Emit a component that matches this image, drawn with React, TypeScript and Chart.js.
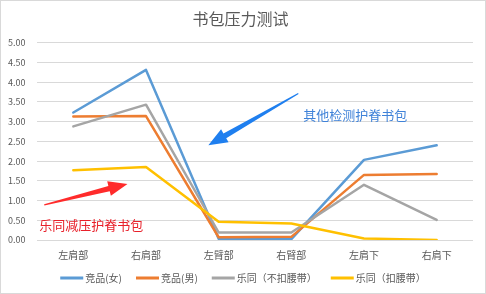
import React, { useEffect, useRef } from "react";
import { Chart, registerables } from "chart.js";

Chart.register(...registerables);

const categories = ["左肩部", "右肩部", "左臂部", "右臂部", "左肩下", "右肩下"];
const seriesNames = ["竞品(女)", "竞品(男)", "乐同（不扣腰带）", "乐同（扣腰带）"];
const competitorFemale = [3.23, 4.31, 0.03, 0.02, 2.03, 2.4];
const competitorMale = [3.13, 3.14, 0.07, 0.08, 1.65, 1.67];
const letongNoBelt = [2.88, 3.43, 0.19, 0.19, 1.4, 0.51];
const letongBelt = [1.77, 1.85, 0.46, 0.42, 0.04, 0.0];
const seriesColors = ["#5B9BD5", "#ED7D31", "#A5A5A5", "#FFC000"];
const titleText = "书包压力测试";

// annotations in data coordinates (category index, value)
const arrowNotes = [
  { from: [-0.4, 0.89], to: [0.745, 1.42], color: "#FF2B2B" },
  { from: [3.096, 3.71], to: [1.858, 2.4], color: "#1F7FEF" },
];
const textNotes = [
  { at: [-0.47, 0.38], text: "乐同减压护脊书包", color: "#E8202A" },
  { at: [3.165, 3.17], text: "其他检测护脊书包", color: "#3F82D8" },
];

const FONT = '"Noto Sans CJK SC", "Noto Sans", sans-serif';

function drawArrow(ctx: CanvasRenderingContext2D, x1: number, y1: number, x2: number, y2: number, color: string) {
  const dx = x2 - x1;
  const dy = y2 - y1;
  const len = Math.hypot(dx, dy);
  const ux = dx / len;
  const uy = dy / len;
  const nx = -uy;
  const ny = ux;
  const headLen = 19;
  const headHalf = 7.5;
  const shaftHalf = 2.8;
  const tailHalf = 0.6;
  const bx = x2 - ux * headLen;
  const by = y2 - uy * headLen;
  ctx.save();
  ctx.fillStyle = color;
  ctx.beginPath();
  ctx.moveTo(x1 + nx * tailHalf, y1 + ny * tailHalf);
  ctx.lineTo(bx + nx * shaftHalf, by + ny * shaftHalf);
  ctx.lineTo(bx + nx * headHalf, by + ny * headHalf);
  ctx.lineTo(x2, y2);
  ctx.lineTo(bx - nx * headHalf, by - ny * headHalf);
  ctx.lineTo(bx - nx * shaftHalf, by - ny * shaftHalf);
  ctx.lineTo(x1 - nx * tailHalf, y1 - ny * tailHalf);
  ctx.closePath();
  ctx.fill();
  ctx.restore();
}

const annotationPlugin = {
  id: "notes",
  afterDatasetsDraw(chart: any) {
    const ctx = chart.ctx as CanvasRenderingContext2D;
    const xs = chart.scales.x;
    const ys = chart.scales.y;
    arrowNotes.forEach((a) => {
      drawArrow(
        ctx,
        xs.getPixelForValue(a.from[0]),
        ys.getPixelForValue(a.from[1]),
        xs.getPixelForValue(a.to[0]),
        ys.getPixelForValue(a.to[1]),
        a.color
      );
    });
    ctx.save();
    ctx.font = `13px ${FONT}`;
    ctx.textBaseline = "middle";
    ctx.textAlign = "left";
    textNotes.forEach((t) => {
      ctx.fillStyle = t.color;
      ctx.fillText(t.text, xs.getPixelForValue(t.at[0]), ys.getPixelForValue(t.at[1]));
    });
    ctx.restore();
  },
  afterDraw(chart: any) {
    const ctx = chart.ctx as CanvasRenderingContext2D;
    ctx.save();
    // custom legend
    ctx.font = `10px ${FONT}`;
    ctx.textBaseline = "middle";
    ctx.textAlign = "left";
    const lineW = 23;
    const textGap = 2;
    const itemGap = 14;
    const widths = seriesNames.map((n) => lineW + textGap + ctx.measureText(n).width);
    const total = widths.reduce((a, b) => a + b, 0) + itemGap * (widths.length - 1);
    let x = (chart.width - total) / 2;
    const y = 278;
    seriesNames.forEach((n, i) => {
      ctx.fillStyle = seriesColors[i];
      ctx.fillRect(x, y - 1.5, lineW, 3);
      ctx.fillStyle = "#595959";
      ctx.fillText(n, x + lineW + textGap, y);
      x += widths[i] + itemGap;
    });
    // border
    ctx.strokeStyle = "#D9D9D9";
    ctx.lineWidth = 1;
    ctx.strokeRect(0.5, 0.5, chart.width - 1, chart.height - 1);
    ctx.restore();
  },
};

export default function App() {
  const ref = useRef<HTMLCanvasElement | null>(null);
  useEffect(() => {
    document.body.style.margin = "0";
    const canvas = ref.current;
    if (!canvas) return;
    const series = [competitorFemale, competitorMale, letongNoBelt, letongBelt];
    const chart = new Chart(canvas, {
      type: "line",
      data: {
        labels: categories,
        datasets: series.map((d, i) => ({
          label: seriesNames[i],
          data: d,
          borderColor: seriesColors[i],
          backgroundColor: seriesColors[i],
          borderWidth: 2.5,
          pointRadius: 0,
          tension: 0,
          fill: false,
          borderJoinStyle: "round" as const,
          borderCapStyle: "round" as const,
          order: 3 - i,
        })),
      },
      options: {
        responsive: false,
        animation: false,
        devicePixelRatio: 1,
        layout: { padding: { left: 8, right: 13, top: 0, bottom: 24 } },
        plugins: {
          title: {
            display: true,
            text: titleText,
            color: "#595959",
            font: { family: FONT, size: 16, weight: "normal" },
            padding: { top: 9.5, bottom: 14 },
          },
          legend: { display: false },
          tooltip: { enabled: false },
        },
        scales: {
          x: {
            offset: true,
            grid: { display: false, drawTicks: false },
            border: { display: false },
            ticks: { color: "#595959", font: { family: FONT, size: 10 }, padding: 9 },
          },
          y: {
            min: 0,
            max: 5,
            grid: { color: "#D9D9D9", lineWidth: 1, drawTicks: false },
            border: { display: false },
            afterFit: (scale: any) => {
              scale.width = 29;
            },
            ticks: {
              stepSize: 0.5,
              color: "#595959",
              font: { family: FONT, size: 9 },
              padding: 6,
              crossAlign: "far",
              callback: (v: any) => Number(v).toFixed(2),
            },
          },
        },
      },
      plugins: [annotationPlugin],
    });
    return () => chart.destroy();
  }, []);
  return <canvas ref={ref} width={486} height={294} style={{ display: "block", width: 486, height: 294 }} />;
}
